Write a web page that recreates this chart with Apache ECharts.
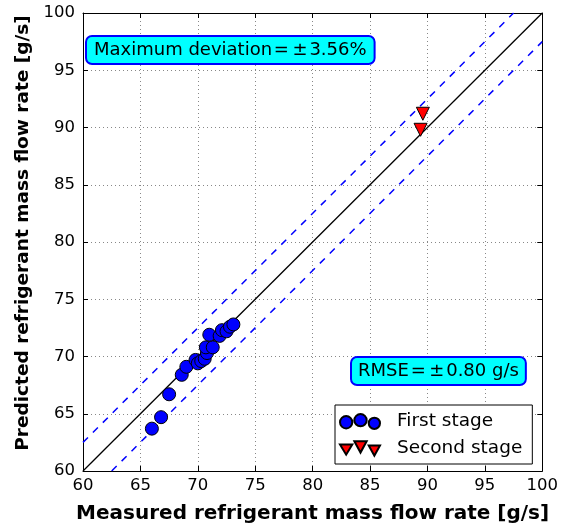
<!DOCTYPE html>
<html><head><meta charset="utf-8">
<script src="https://cdn.jsdelivr.net/npm/echarts@6/dist/echarts.min.js"></script>
<style>html,body{margin:0;padding:0;background:#fff}#c{width:561px;height:529px}</style>
</head><body><div id="c"></div>
<script>
const xTicks = [60,65,70,75,80,85,90,95,100];
const yTicks = [60,65,70,75,80,85,90,95,100];
const firstMeasured  = [66.0,66.8,67.5,68.6,69.0,69.8,70.0,70.3,70.6,70.8,70.7,71.3,71.0,71.9,72.1,72.5,72.8,73.1];
const firstPredicted = [63.7,64.7,66.7,68.4,69.1,69.7,69.4,69.6,69.8,70.3,70.8,70.8,71.9,71.8,72.3,72.2,72.6,72.8];
const secondMeasured  = [89.6,89.4];
const secondPredicted = [91.2,89.8];
const parityX = [60,100];
const upperX = [60,97.5];
const upperY = [62.5,100];
const lowerX = [62.5,100];
const lowerY = [60,97.5];
const maxDevText = 'Maximum deviation\u200a=\u2009\u00b1\u200a3.56%';
const rmseText = 'RMSE\u200a=\u2009\u00b1\u200a0.80 g/s';
const seriesNames = ['First stage','Second stage'];

const zip = (a,b)=>a.map((v,i)=>[v,b[i]]);
const F = 'DejaVu Sans';
const chart = echarts.init(document.getElementById('c'));
const gridLine = {show:true,lineStyle:{color:'#888',type:[1,3],width:1}};
const baseAxis = {
  type:'value', min:60, max:100, interval:5,
  axisLine:{show:true,onZero:false,lineStyle:{color:'#000',width:1}},
  axisTick:{show:true,inside:true,length:5,lineStyle:{color:'#000'}},
};
chart.setOption({
  animation:false,
  grid:{left:83,right:18,top:13,bottom:55,containLabel:false},
  xAxis:[
    Object.assign({},baseAxis,{position:'bottom',
      name:'Measured refrigerant mass flow rate [g/s]',nameLocation:'middle',nameGap:33,
      nameTextStyle:{fontFamily:F,fontWeight:'bold',fontSize:20,color:'#000'},
      axisLabel:{fontFamily:F,fontSize:16.5,color:'#000',margin:6,
        formatter:v=>xTicks.includes(v)?String(v):''},
      splitLine:gridLine}),
    Object.assign({},baseAxis,{position:'top',axisLabel:{show:false},splitLine:{show:false}})
  ],
  yAxis:[
    Object.assign({},baseAxis,{position:'left',
      name:'Predicted refrigerant mass flow rate [g/s]',nameLocation:'middle',nameGap:50,
      nameTextStyle:{fontFamily:F,fontWeight:'bold',fontSize:18.5,color:'#000',padding:[0,0,0,18]},
      axisLabel:{fontFamily:F,fontSize:16.5,color:'#000',margin:8,
        formatter:v=>yTicks.includes(v)?String(v):''},
      splitLine:gridLine}),
    Object.assign({},baseAxis,{position:'right',axisLabel:{show:false},splitLine:{show:false}})
  ],
  legend:{
    orient:'vertical', left:335, top:405, padding:[7,10,6,4],
    backgroundColor:'#fff', borderColor:'#000', borderWidth:1, borderRadius:0,
    itemWidth:40, itemHeight:15, itemGap:8,
    textStyle:{fontFamily:F,fontSize:18.5,color:'#000',padding:[0,0,0,12]},
    data:[
      {name:seriesNames[0],icon:'path://M0,8a6,6 0 1,0 12,0a6,6 0 1,0 -12,0M14,6a6,6 0 1,0 12,0a6,6 0 1,0 -12,0M28,9a5.5,5.5 0 1,0 11,0a5.5,5.5 0 1,0 -11,0'},
      {name:seriesNames[1],icon:'path://M0,3L12,3L6,13ZM14,0L26,0L20,11ZM28,4L39,4L33.5,14Z'}
    ]
  },
  graphic:[
    {type:'text',left:85,top:35,z:100,style:{text:maxDevText,font:'18px "DejaVu Sans"',fill:'#000',
      backgroundColor:'#00ffff',borderColor:'#0000ff',borderWidth:2,borderRadius:5,padding:[4,7,4,7]}},
    {type:'text',left:350,top:356,z:100,style:{text:rmseText,font:'18px "DejaVu Sans"',fill:'#000',
      backgroundColor:'#00ffff',borderColor:'#0000ff',borderWidth:2,borderRadius:5,padding:[4,6,4,6]}}
  ],
  series:[
    {type:'line',data:zip(parityX,parityX),symbol:'none',silent:true,lineStyle:{color:'#000',width:1.3}},
    {type:'line',data:zip(upperX,upperY),symbol:'none',silent:true,lineStyle:{color:'#0000ff',width:1.5,type:[7,7]}},
    {type:'line',data:zip(lowerX,lowerY),symbol:'none',silent:true,lineStyle:{color:'#0000ff',width:1.5,type:[7,7]}},
    {name:seriesNames[0],type:'scatter',data:zip(firstMeasured,firstPredicted),symbol:'circle',symbolSize:13,
      itemStyle:{color:'#0000ff',borderColor:'#000',borderWidth:1,opacity:1},z:5},
    {name:seriesNames[1],type:'scatter',data:zip(secondMeasured,secondPredicted),symbol:'triangle',symbolRotate:180,symbolSize:13,
      itemStyle:{color:'#ff0000',borderColor:'#000',borderWidth:1,opacity:1},z:5}
  ]
});
</script></body></html>
